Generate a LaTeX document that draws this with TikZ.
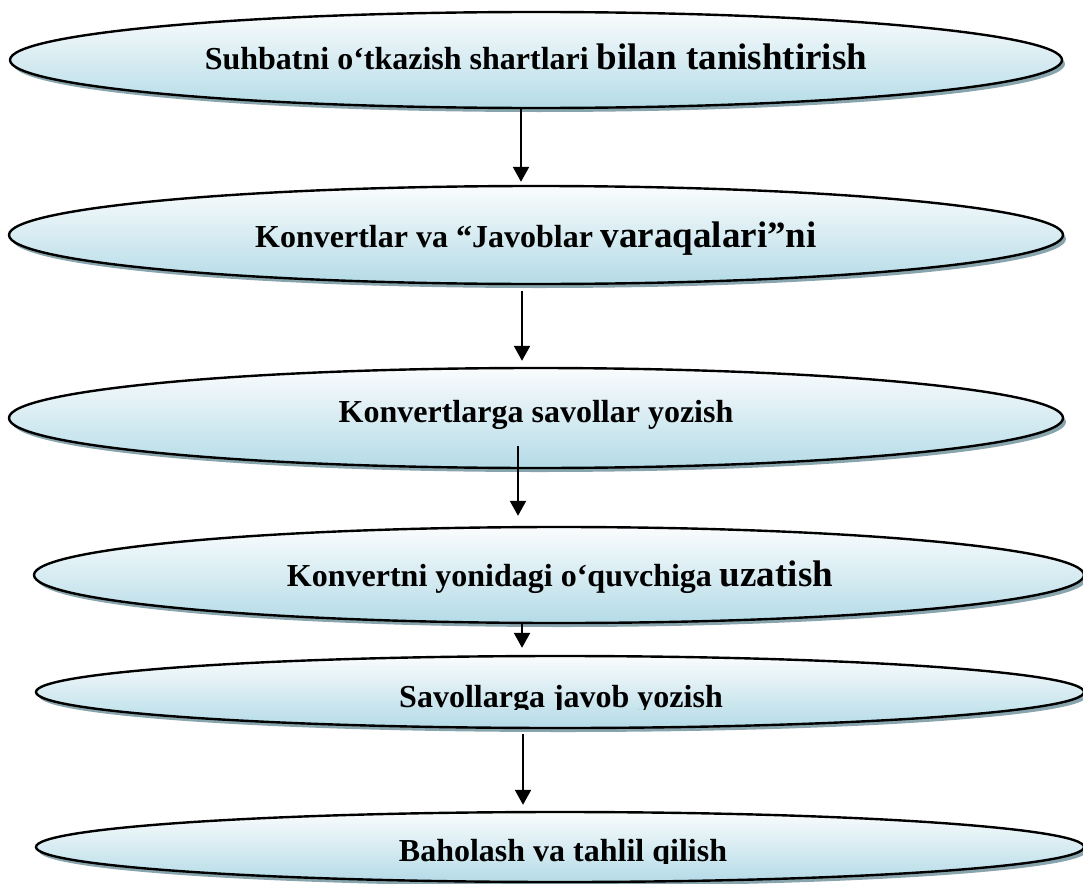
\documentclass[tikz,border=0pt]{standalone}
\usepackage{fontspec}
\setmainfont{Liberation Serif}
\usetikzlibrary{shapes.geometric,shadows,arrows.meta}
\definecolor{topc}{RGB}{250,252,253}
\definecolor{botc}{RGB}{180,219,231}
\definecolor{shadowc}{RGB}{136,164,172}
\tikzset{
  oval/.style={ellipse, draw=black, line width=2.4pt, inner sep=0pt,
    top color=topc, bottom color=botc,
    drop shadow={shadow xshift=3pt, shadow yshift=-4pt, fill=shadowc, opacity=1}},
  lbl/.style={anchor=base, inner sep=0pt, font=\bfseries\fontsize{32}{38}\selectfont},
  flow/.style={line width=2.2pt, -{Triangle[width=16pt,length=15pt]}},
}
\newcommand{\bigpart}[1]{{\fontsize{37}{44}\selectfont #1}}
\begin{document}
\begin{tikzpicture}[x=1pt,y=-1pt]
\useasboundingbox (0,0) rectangle (1083,883);
% ovals
\node[oval, minimum width=1052pt, minimum height=96pt] (e1) at (536,60) {};
\node[oval, minimum width=1054pt, minimum height=98pt] (e2) at (536,235) {};
\node[oval, minimum width=1054pt, minimum height=100pt] (e3) at (536,418) {};
\node[oval, minimum width=1050pt, minimum height=96pt] (e4) at (559,575) {};
\node[oval, minimum width=1048pt, minimum height=72pt] (e5) at (560,692) {};
\node[oval, minimum width=1048pt, minimum height=70pt] (e6) at (560,847) {};
% texts
\node[lbl] (t1) at (536,70) {Suhbatni o‘tkazish shartlari \bigpart{bilan tanishtirish}};
\node[lbl] (t2) at (536,247) {Konvertlar va “Javoblar \bigpart{varaqalari”ni}};
\node[lbl] (t3) at (536,422) {Konvertlarga savollar yozish};
\node[lbl] (t4) at (560,586) {Konvertni yonidagi o‘quvchiga \bigpart{uzatish}};
\begin{scope}
  \clip (300,660) rectangle (820,709);
  \node[lbl] (t5) at (561,707) {Savollarga javob yozish};
\end{scope}
\begin{scope}
  \clip (300,815) rectangle (820,863);
  \node[lbl] (t6) at (563,861) {Baholash va tahlil qilish};
\end{scope}
% arrows
\draw[flow] ([xshift=-15pt]e1.south) coordinate (a1) -- ([yshift=3pt]a1 |- e2.north);
\draw[flow] ([xshift=-14pt,yshift=-6pt]e2.south) coordinate (a2) -- ([yshift=6pt]a2 |- e3.north);
\draw[flow] ([xshift=-18pt,yshift=23pt]e3.south) coordinate (a3) -- ([yshift=10pt]a3 |- e4.north);
\draw[flow] ([xshift=-37pt,yshift=1pt]e4.south) coordinate (a4) -- ([yshift=7pt]a4 |- e5.north);
\draw[flow] ([xshift=-37pt,yshift=-5pt]e5.south) coordinate (a5) -- ([yshift=6pt]a5 |- e6.north);
\end{tikzpicture}
\end{document}
